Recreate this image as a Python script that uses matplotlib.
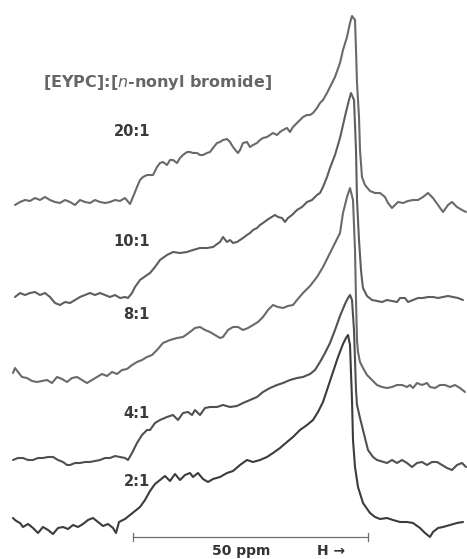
import numpy as np
import matplotlib
matplotlib.use("Agg")
import matplotlib.pyplot as plt

# ---------------- data (field position in chart units, intensity in a.u.) ----------------
ratios = ["20:1", "10:1", "8:1", "4:1", "2:1"]

field_20 = [15, 20, 25, 30, 35, 40, 45, 50, 55, 60, 65, 70, 75, 80, 85, 90, 95, 100, 105, 110, 115, 120, 125, 130,
            133, 137, 140, 143, 147, 150, 153, 157, 160, 163, 167, 170, 173, 177, 180, 183, 187, 190, 193, 197, 200,
            203, 207, 210, 213, 217, 220, 223, 227, 230, 233, 237, 238, 240, 243, 247, 250, 253, 257, 260, 263, 267,
            270, 273, 277, 280, 283, 287, 290, 293, 297, 300, 303, 307, 310, 313, 317, 320, 323, 327, 330, 335, 340,
            343, 347, 350, 352, 355, 356, 357, 359, 360, 362, 365, 370, 375, 380, 385, 388, 392, 395, 398, 403, 408,
            413, 418, 423, 428, 433, 438, 443, 448, 452, 457, 462, 466]
inten_20 = [-5, -2, 0, -1, 2, 0, 3, 0, -2, -3, 0, -2, -5, 0, -2, -3, 0, -2, -3, -2, 0, -1, 2, -4,
            3, 13, 20, 23, 25, 25, 25, 33, 37, 38, 35, 40, 40, 37, 42, 45, 48, 48, 47, 47, 45,
            45, 47, 48, 52, 57, 58, 60, 61, 58, 53, 48, 47, 50, 57, 58, 53, 55, 57, 60, 62, 63,
            65, 67, 65, 68, 70, 72, 68, 73, 77, 80, 83, 85, 85, 87, 92, 97, 100, 107, 113, 123, 137,
            150, 163, 177, 184, 180, 150, 117, 83, 50, 23, 15, 9, 7, 7, 3, -3, -8, -5, -2, -3, -1,
            0, 0, 3, 7, 2, -5, -12, -5, -2, -7, -10, -12]

field_10 = [15, 20, 25, 30, 35, 40, 45, 50, 55, 60, 65, 70, 75, 80, 85, 90, 95, 100, 105, 110, 115, 120, 125, 128,
            132, 135, 140, 147, 150, 155, 160, 167, 173, 180, 187, 193, 200, 207, 213, 220, 223, 227, 230, 233, 237,
            240, 243, 247, 250, 253, 257, 260, 263, 267, 270, 275, 278, 282, 285, 288, 292, 297, 302, 307, 312, 317,
            320, 323, 327, 330, 335, 340, 343, 346, 349, 351, 354, 356, 357, 359, 361, 362, 363, 367, 372, 377, 382,
            387, 392, 397, 400, 405, 408, 413, 418, 423, 428, 433, 438, 443, 448, 453, 458, 463]
inten_10 = [0, 4, 2, 4, 5, 2, 4, 0, -6, -8, -5, -6, -3, 0, 2, 4, 2, 4, 2, 0, 2, -1, 0, -1,
            4, 10, 17, 22, 24, 30, 37, 42, 45, 44, 45, 47, 49, 49, 50, 55, 60, 55, 57, 54, 55,
            57, 59, 62, 64, 67, 69, 72, 74, 77, 79, 82, 80, 79, 75, 79, 82, 87, 90, 95, 97, 102,
            104, 110, 120, 129, 142, 159, 172, 185, 197, 204, 197, 147, 97, 57, 27, 17, 9, 1, -3, -4, -5,
            -3, -4, -5, -1, -1, -5, -3, -1, -1, 0, 0, -1, 0, 1, 0, -1, -3]

field_8 = [13, 15, 18, 22, 27, 32, 37, 42, 47, 52, 57, 62, 67, 72, 77, 82, 87, 92, 97, 102, 107, 112, 117, 122,
           127, 132, 137, 142, 147, 152, 157, 163, 170, 177, 183, 190, 195, 200, 205, 210, 215, 220, 223, 228, 233,
           238, 243, 248, 253, 258, 263, 268, 273, 278, 283, 288, 293, 297, 303, 310, 317, 323, 330, 335, 340, 343,
           347, 350, 353, 355, 356, 357, 358, 360, 363, 367, 372, 377, 382, 387, 392, 397, 402, 407, 410, 413, 417,
           422, 427, 430, 435, 440, 445, 450, 455, 460, 465]
inten_8 = [7, 12, 8, 3, 2, -1, -2, -1, 0, -3, 3, 1, -2, 2, 3, 0, -3, 0, 3, 6, 4, 8, 6, 10,
           11, 15, 18, 20, 23, 25, 30, 37, 40, 42, 43, 48, 52, 53, 50, 48, 45, 42, 43, 50, 53,
           53, 50, 52, 55, 58, 63, 70, 75, 73, 72, 74, 75, 80, 87, 94, 103, 113, 127, 137, 147, 167,
           183, 192, 180, 130, 80, 40, 28, 18, 12, 5, 0, -5, -7, -8, -7, -5, -5, -7, -5, -8, -3,
           -5, -3, -7, -8, -5, -5, -7, -5, -8, -12]

field_4 = [13, 18, 23, 28, 33, 38, 43, 48, 53, 58, 63, 67, 70, 75, 80, 85, 90, 95, 100, 105, 110, 115, 120, 125,
           128, 132, 137, 142, 147, 150, 155, 160, 167, 173, 178, 183, 188, 192, 195, 200, 205, 210, 217, 223, 230,
           237, 243, 250, 257, 263, 270, 277, 283, 290, 297, 303, 310, 315, 320, 325, 330, 335, 340, 345, 348, 350,
           352, 354, 355, 356, 357, 360, 363, 368, 373, 377, 387, 392, 397, 402, 407, 412, 417, 422, 427, 432, 437,
           442, 447, 452, 457, 462, 466]
inten_4 = [0, 2, 2, 0, 0, 2, 2, 3, 3, 0, -2, -5, -5, -3, -3, -2, -2, -1, 0, 2, 2, 4, 3, 2,
           0, 7, 17, 25, 30, 30, 37, 40, 43, 45, 40, 47, 48, 45, 50, 45, 52, 53, 53, 55, 53,
           54, 57, 60, 63, 68, 72, 75, 77, 80, 82, 83, 86, 90, 98, 107, 117, 130, 144, 156, 162, 165,
           160, 130, 100, 70, 55, 42, 30, 10, 3, 0, -3, 0, -3, 0, -3, -7, -3, -2, -5, -2, -2,
           -5, -8, -10, -5, -3, -7]

field_2 = [13, 15, 18, 20, 23, 28, 33, 38, 43, 48, 53, 58, 63, 68, 73, 78, 83, 88, 93, 98, 103, 108, 113, 116,
           119, 125, 130, 135, 140, 145, 150, 155, 160, 165, 170, 175, 180, 185, 190, 193, 198, 203, 208, 213, 220,
           227, 233, 240, 247, 253, 260, 267, 273, 280, 287, 293, 300, 307, 313, 318, 323, 328, 333, 338, 343, 346,
           348, 350, 352, 353, 355, 358, 363, 370, 375, 380, 387, 393, 400, 407, 413, 420, 425, 430, 433, 438, 443,
           450, 457, 463]
inten_2 = [7, 5, 3, 2, -2, 1, -3, -8, -2, -5, -9, -3, -2, -4, 0, -2, 1, 5, 7, 3, -1, 1, -3, -8,
           3, 6, 10, 14, 18, 25, 34, 41, 45, 49, 44, 51, 45, 50, 52, 48, 52, 46, 43, 46, 48,
           52, 54, 60, 65, 63, 65, 68, 72, 77, 83, 88, 95, 100, 105, 113, 123, 138, 153, 168, 181, 187,
           190, 180, 125, 85, 58, 38, 22, 12, 8, 6, 7, 5, 3, 3, 2, -3, -8, -12, -7, -3, -2,
           0, 2, 3]

fields = [field_20, field_10, field_8, field_4, field_2]
intens = [inten_20, inten_10, inten_8, inten_4, inten_2]

title_text = r"[EYPC]:[$\mathit{n}$-nonyl bromide]"
scale_label = "50 ppm"
field_label = "H \u2192"
scale_start, scale_end = 133, 368   # field units spanned by 50 ppm

# ---------------- layout / style ----------------
W, H = 467, 559
offsets = [200, 297, 380, 460, 525]          # vertical stacking of the traces
label_pos = [(150, 136), (150, 246), (150, 319), (150, 418), (150, 486)]
colors = ["#6a6a6a", "#5e5e5e", "#6a6a6a", "#505050", "#3c3c3c"]

fig = plt.figure(figsize=(W / 100, H / 100), dpi=100)
ax = fig.add_axes([0, 0, 1, 1])
ax.set_xlim(0, W)
ax.set_ylim(-H, 0)
ax.axis("off")

for f, s, off, c in zip(fields, intens, offsets, colors):
    ax.plot(f, np.array(s) - off, color=c, lw=1.5, solid_joinstyle="round", solid_capstyle="round")

for lab, (lx, ly) in zip(ratios, label_pos):
    ax.text(lx, -ly, lab, ha="right", va="baseline", fontsize=10.5, fontweight="bold",
            color="#3a3a3a", family="DejaVu Sans")

ax.text(43, -87, title_text, ha="left", va="baseline", fontsize=11.5, fontweight="bold",
        color="#666666", family="DejaVu Sans")

# scale bar
bar_y = -537
ax.plot([scale_start, scale_end], [bar_y, bar_y], color="#707070", lw=0.9)
for xe in (scale_start, scale_end):
    ax.plot([xe, xe], [bar_y - 4, bar_y + 4], color="#707070", lw=0.9)
ax.text(241, -555, scale_label, ha="center", va="baseline", fontsize=10, fontweight="bold", color="#333333")
ax.text(331, -555, field_label, ha="center", va="baseline", fontsize=10, fontweight="bold", color="#333333")

fig.savefig("out.png", dpi=100)
